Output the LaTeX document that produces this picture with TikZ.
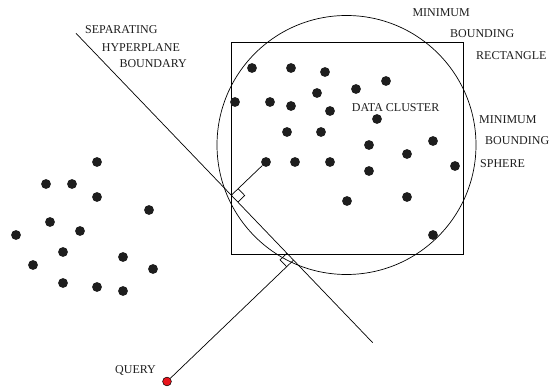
\documentclass[tikz,border=0pt]{standalone}
\usepackage{fontspec}
\setmainfont{Liberation Serif}
\usetikzlibrary{calc}
\definecolor{dotc}{HTML}{1E1E1E}
\definecolor{qred}{HTML}{E8141C}
\tikzset{
  pt/.style={circle,fill=dotc,inner sep=0pt,minimum size=9.8pt},
  qpt/.style={circle,fill=qred,draw=black,line width=0.5pt,inner sep=0pt,minimum size=8.8pt},
  lbl/.style={anchor=base west,inner sep=0pt,text=dotc,font=\fontsize{12}{14}\selectfont},
  thin line/.style={line width=0.7pt,draw=black},
  boxline/.style={line width=0.9pt,draw=black},
}
\begin{document}
\begin{tikzpicture}[x=1pt,y=-1pt]
\useasboundingbox (0,0) rectangle (550,387);
% bounding rectangle and sphere
\draw[boxline] (231,42) rectangle (463.7,254);
\node[circle,thin line,minimum size=259pt,inner sep=0pt] (sphere) at (346.5,145) {};
% separating hyperplane
\coordinate (sepA) at (76,33.3);
\coordinate (sepB) at (372.7,342.7);
\draw[thin line] (sepA) -- (sepB);
% data cluster
\foreach \i/\x/\y in {1/252/68,2/291/68,3/325/72,4/386/81,5/356/89,6/317/93,7/235/102,8/270/102,
  9/291/106,10/330/111,11/377/119,12/287/132,13/321/132,14/433/141,15/369/145,16/407/154,
  17/266/162,18/295/162,19/330/162,20/455/166,21/369/171,22/347/201,23/407/197,24/433/235}
  \node[pt] (c\i) at (\x,\y) {};
% other points
\foreach \i/\x/\y in {1/97/162,2/46/184,3/72/184,4/97/197,5/149/210,6/50/222,7/16/235,8/80/231,
  9/63/252,10/123/257,11/33/265,12/153/269,13/63/283,14/97/287,15/123/291}
  \node[pt] (l\i) at (\x,\y) {};
% query
\node[qpt] (q) at (167,381.5) {};
% perpendicular from cluster point to hyperplane
\coordinate (f1) at ($(sepA)!(c17)!(sepB)$);
\draw[thin line] (c17) -- (f1);
\coordinate (m1a) at ($(f1)!9.5pt!(c17)$);
\coordinate (m1b) at ($(f1)!9.5pt!(sepB)$);
\draw[thin line] (m1a) -- ($(m1a)+(m1b)-(f1)$) -- (m1b);
% perpendicular from query to hyperplane
\coordinate (f2) at ($(sepA)!(q)!(sepB)$);
\draw[thin line] (q) -- (f2);
\coordinate (m2a) at ($(f2)!9.5pt!(q)$);
\coordinate (m2b) at ($(f2)!9.5pt!(sepA)$);
\draw[thin line] (m2a) -- ($(m2a)+(m2b)-(f2)$) -- (m2b);
% labels
\node[lbl] (t1) at (85,33.5) {SEPARATING};
\node[lbl] (t2) at (101.7,51.5) {HYPERPLANE};
\node[lbl] (t3) at (119.3,68) {BOUNDARY};
\node[lbl] (t4) at (412.3,16.5) {MINIMUM};
\node[lbl] (t5) at (450,37.5) {BOUNDING};
\node[lbl] (t6) at (476,60) {RECTANGLE};
\node[lbl] (t7) at (351.7,111.5) {DATA CLUSTER};
\node[lbl] (t8) at (479,123.5) {MINIMUM};
\node[lbl] (t9) at (485,144.5) {BOUNDING};
\node[lbl] (t10) at (480,167.3) {SPHERE};
\node[lbl] (t11) at (115,373.5) {QUERY};
\end{tikzpicture}
\end{document}
